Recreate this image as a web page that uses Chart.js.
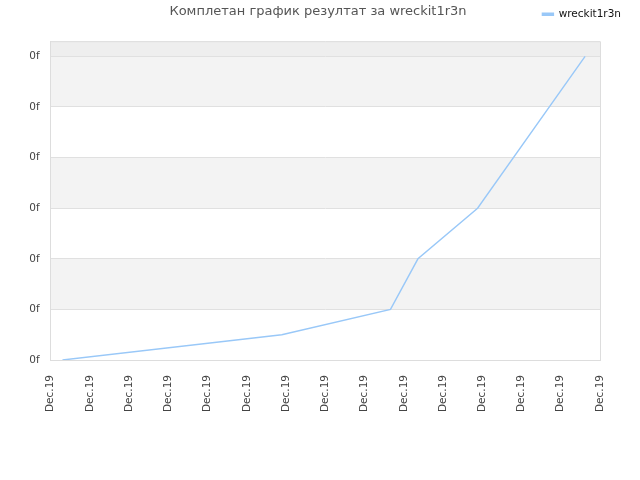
<!DOCTYPE html>
<html lang="sr">
<head>
  <meta charset="UTF-8" />
  <title>Комплетан график</title>
  <script src="https://cdn.jsdelivr.net/npm/chart.js"></script>
  <style>
    body { margin: 0; background: #fff; }
    #wrap { width: 640px; height: 480px; }
  </style>
</head>
<body>
  <div id="wrap"><canvas id="scoreChart"></canvas></div>

  <script>
    const seriesName = 'wreckit1r3n';
    const chartTitle = 'Комплетан график резултат за wreckit1r3n';
    // point positions along the date axis (one unit per tick) and scores
    const xValues = [0.30, 5.89, 8.66, 9.36, 10.88, 13.62];
    const yValues = [0, 0.5, 1, 2, 3, 6];
    const xTickLabels = ['Dec.19', 'Dec.19', 'Dec.19', 'Dec.19', 'Dec.19', 'Dec.19', 'Dec.19', 'Dec.19',
                         'Dec.19', 'Dec.19', 'Dec.19', 'Dec.19', 'Dec.19', 'Dec.19', 'Dec.19'];
    const yTickLabels = ['0f', '0f', '0f', '0f', '0f', '0f', '0f'];

    const lineColor = '#99c8f8';
    const font = 'DejaVu Sans';

    // alternating horizontal bands + right/top frame + title
    const decor = {
      id: 'decor',
      beforeDraw(chart) {
        const { ctx, chartArea: a, scales: { y } } = chart;
        ctx.save();
        for (let i = 0; i < Math.ceil(y.max); i++) {
          const top = y.getPixelForValue(Math.min(i + 1, y.max));
          const bot = y.getPixelForValue(i);
          if (i + 1 > yTickLabels.length - 1) ctx.fillStyle = '#eeeeee';
          else if (i % 2 === 1) ctx.fillStyle = '#f3f3f3';
          else continue;
          ctx.fillRect(a.left, top, a.right - a.left, bot - top);
        }
        ctx.restore();
      },
      afterDraw(chart) {
        const { ctx, chartArea: a } = chart;
        ctx.save();
        ctx.strokeStyle = '#dddddd';
        ctx.lineWidth = 1;
        ctx.beginPath();
        ctx.moveTo(a.left, a.top + 0.5);
        ctx.lineTo(a.right + 0.5, a.top + 0.5);
        ctx.lineTo(a.right + 0.5, a.bottom);
        ctx.stroke();
        ctx.fillStyle = '#555555';
        ctx.font = '13px "' + font + '"';
        ctx.textAlign = 'center';
        ctx.textBaseline = 'middle';
        ctx.fillText(chartTitle, 318, 12);
        ctx.restore();
      }
    };

    new Chart(document.getElementById('scoreChart'), {
      type: 'line',
      data: {
        datasets: [{
          label: seriesName,
          data: xValues.map((x, i) => ({ x: x, y: yValues[i] })),
          borderColor: lineColor,
          backgroundColor: lineColor,
          borderWidth: 1.4,
          pointRadius: 0,
          tension: 0,
          fill: false
        }]
      },
      options: {
        responsive: true,
        maintainAspectRatio: false,
        animation: false,
        layout: { padding: { top: -3.5, right: 6.5, bottom: 0, left: 0 } },
        plugins: {
          legend: {
            position: 'top',
            align: 'end',
            labels: {
              boxWidth: 11,
              boxHeight: 2,
              padding: 12.5,
              color: '#111',
              font: { family: font, size: 10.5 }
            }
          },
          title: { display: false },
          tooltip: { enabled: false }
        },
        scales: {
          x: {
            type: 'linear',
            min: 0,
            max: xTickLabels.length - 1,
            grid: { display: false },
            border: { display: true, color: '#dddddd' },
            afterFit: s => { s.height = 120; },
            ticks: {
              stepSize: 1,
              autoSkip: false,
              minRotation: 90,
              maxRotation: 90,
              padding: 7,
              color: '#444',
              font: { family: font, size: 10.5 },
              callback: (v, i) => xTickLabels[i]
            }
          },
          y: {
            min: 0,
            max: 6.3,
            afterBuildTicks: s => { s.ticks = yTickLabels.map((t, i) => ({ value: i })); },
            afterFit: s => { s.width = 50.7; },
            grid: { color: '#e0e0e0', drawTicks: false },
            border: { display: true, color: '#dddddd' },
            ticks: {
              padding: 11,
              color: '#444',
              font: { family: font, size: 10.5 },
              callback: (v, i) => yTickLabels[i]
            }
          },
          padRight: {
            position: 'right',
            display: true,
            grid: { display: false },
            border: { display: false },
            ticks: { display: false },
            afterFit: s => { s.width = 33.5; }
          },
          padTop: {
            axis: 'x',
            position: 'top',
            display: true,
            grid: { display: false },
            border: { display: false },
            ticks: { display: false },
            afterFit: s => { s.height = 11.7; }
          }
        }
      },
      plugins: [decor]
    });
  </script>
</body>
</html>
